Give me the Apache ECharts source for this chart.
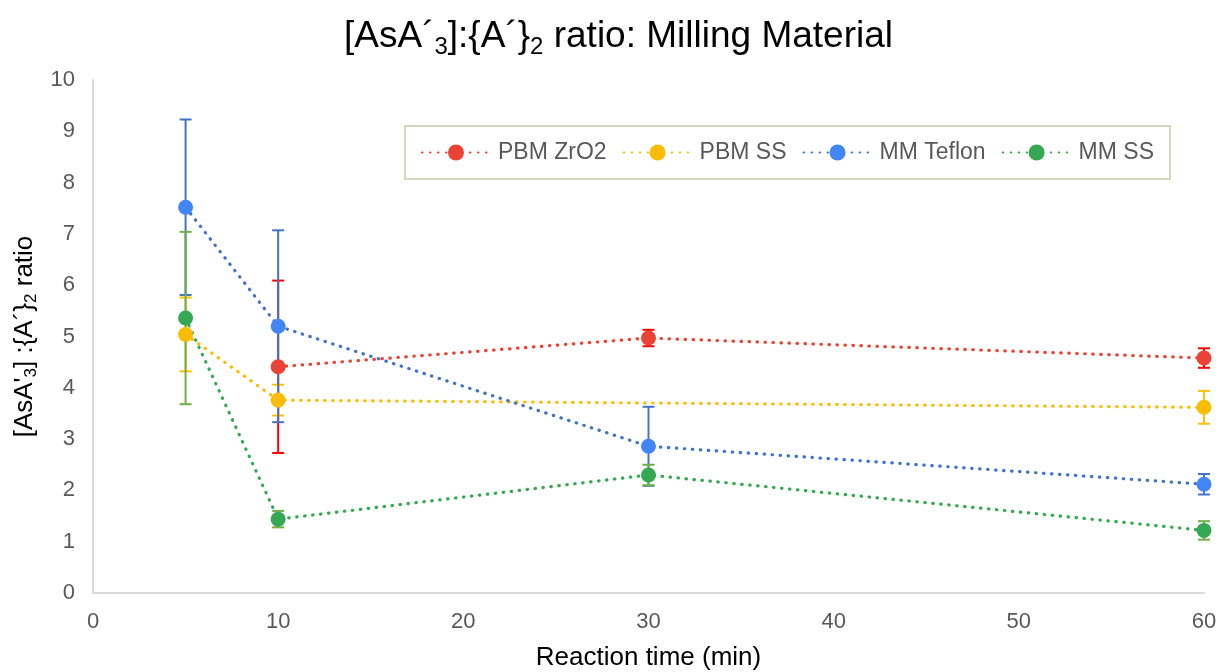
<!DOCTYPE html>
<html>
<head>
<meta charset="utf-8">
<script src="https://cdn.jsdelivr.net/npm/echarts@6/dist/echarts.min.js"></script>
<style>html,body{margin:0;padding:0;background:#fff;}#c{width:1220px;height:672px;}</style>
</head>
<body>
<div id="c"></div>
<script>
const seriesNames = ['PBM ZrO2', 'PBM SS', 'MM Teflon', 'MM SS'];
const redX = [10, 30, 60];
const redY = [4.41, 4.97, 4.58];
const redErr = [1.68, 0.16, 0.19];
const yellowX = [5, 10, 60];
const yellowY = [5.04, 3.76, 3.62];
const yellowErr = [0.72, 0.30, 0.32];
const blueX = [5, 10, 30, 60];
const blueY = [7.52, 5.20, 2.86, 2.12];
const blueErr = [1.71, 1.87, 0.77, 0.20];
const greenX = [5, 10, 30, 60];
const greenY = [5.36, 1.44, 2.30, 1.22];
const greenErr = [1.68, 0.16, 0.20, 0.18];
const xTicks = [0, 10, 20, 30, 40, 50, 60];
const yTicks = [0, 1, 2, 3, 4, 5, 6, 7, 8, 9, 10];

const markerColors = ['#EA4335', '#FBBC04', '#4285F4', '#34A853'];
const lineColors = ['#EA4335', '#FBBC04', '#4472C4', '#34A853'];
const errColors = ['#FF0000', '#FFC000', '#4472C4', '#70AD47'];

const groups = [
  [redX, redY, redErr],
  [yellowX, yellowY, yellowErr],
  [blueX, blueY, blueErr],
  [greenX, greenY, greenErr]
];

const series = [];
groups.forEach((g, i) => {
  const [xs, ys, es] = g;
  series.push({
    name: seriesNames[i] + ' err',
    type: 'custom',
    z: 1 + i * 0.1,
    silent: true,
    data: xs.map((x, k) => [x, ys[k] - es[k], ys[k] + es[k]]),
    renderItem: function (params, api) {
      const x = api.value(0);
      const lo = api.coord([x, api.value(1)]);
      const hi = api.coord([x, api.value(2)]);
      const hw = 6;
      const st = { stroke: errColors[i], lineWidth: 2 };
      return {
        type: 'group',
        children: [
          { type: 'line', shape: { x1: lo[0], y1: lo[1], x2: hi[0], y2: hi[1] }, style: st },
          { type: 'line', shape: { x1: lo[0] - hw, y1: lo[1], x2: lo[0] + hw, y2: lo[1] }, style: st },
          { type: 'line', shape: { x1: hi[0] - hw, y1: hi[1], x2: hi[0] + hw, y2: hi[1] }, style: st }
        ]
      };
    }
  });
});
groups.forEach((g, i) => {
  const [xs, ys] = g;
  series.push({
    name: seriesNames[i],
    type: 'line',
    z: 3,
    data: xs.map((x, k) => [x, ys[k]]),
    symbol: 'circle',
    symbolSize: 15,
    itemStyle: { color: markerColors[i] },
    lineStyle: { color: lineColors[i], width: 3.2, type: [0.5, 7.5], cap: 'round' },
    emphasis: { disabled: true }
  });
});

const chart = echarts.init(document.getElementById('c'), null, { renderer: 'canvas' });
chart.setOption({
  animation: false,
  backgroundColor: '#fff',
  title: {
    text: '[AsA´{s|3}]:{A´}{s|2} ratio: Milling Material',
    left: 339,
    top: 10,
    textStyle: {
      fontFamily: 'Liberation Sans',
      fontSize: 37,
      fontWeight: 'normal',
      color: '#000',
      rich: {
        s: { fontSize: 24, fontFamily: 'Liberation Sans', color: '#000', padding: [20, 0, 0, 0] }
      }
    }
  },
  legend: {
    data: seriesNames,
    left: 405,
    top: 126,
    padding: [15, 16, 15, 16],
    borderColor: '#D9D4BD',
    borderWidth: 2,
    itemWidth: 68,
    itemHeight: 20,
    itemGap: 16,
    textStyle: { fontFamily: 'Liberation Sans', fontSize: 23, color: '#595959', padding: [0, 0, 0, 3] }
  },
  grid: { left: 93, right: 16, top: 80, bottom: 79, containLabel: false, outerBoundsMode: 'none' },
  xAxis: {
    type: 'value',
    min: xTicks[0],
    max: xTicks[xTicks.length - 1],
    interval: 10,
    name: 'Reaction time (min)',
    nameLocation: 'middle',
    nameGap: 52,
    nameTextStyle: { fontFamily: 'Liberation Sans', fontSize: 26, color: '#000' },
    axisLine: { show: true, lineStyle: { color: '#D9D9D9', width: 2 } },
    axisTick: { show: false },
    splitLine: { show: false },
    axisLabel: { fontFamily: 'Liberation Sans', fontSize: 22, color: '#595959', margin: 18 }
  },
  yAxis: {
    type: 'value',
    min: yTicks[0],
    max: yTicks[yTicks.length - 1],
    interval: 1,
    name: "[AsA'{s|3}] :{A´}{s|2} ratio",
    nameLocation: 'middle',
    nameGap: 50,
    nameTextStyle: {
      fontFamily: 'Liberation Sans', fontSize: 26, color: '#000',
      rich: { s: { fontSize: 17, fontFamily: 'Liberation Sans', color: '#000', padding: [13, 0, 0, 0] } }
    },
    axisLine: { show: true, lineStyle: { color: '#D9D9D9', width: 2 } },
    axisTick: { show: false },
    splitLine: { show: false },
    axisLabel: { fontFamily: 'Liberation Sans', fontSize: 22, color: '#595959', margin: 18 }
  },
  series: series
});
</script>
</body>
</html>
